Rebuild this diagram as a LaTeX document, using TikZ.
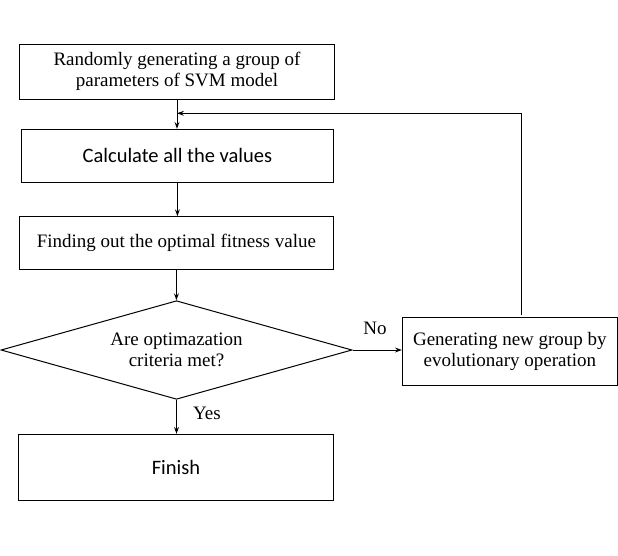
\documentclass[tikz,border=0pt]{standalone}
\usepackage{fontspec}
\setmainfont{Liberation Serif}
\newfontfamily\calfont{Carlito}
\usetikzlibrary{shapes.geometric,arrows.meta}
\begin{document}
\begin{tikzpicture}[x=1pt,y=-1pt,
  box/.style={draw,line width=1pt,inner sep=0pt,align=center,font=\fontsize{19}{21}\selectfont},
  sbox/.style={box,font=\calfont\fontsize{20.5}{21}\selectfont},
  arr/.style={line width=1pt,-{Stealth[length=7pt,width=5pt,inset=2.5pt]}},
  lbl/.style={font=\fontsize{19}{21}\selectfont,inner sep=0pt}]
\useasboundingbox (0,0) rectangle (618,555);
\node[box,minimum width=315pt,minimum height=55pt] (b1) at (177,71.8) {Randomly generating a group of\\parameters of SVM model};
\node[sbox,minimum width=312pt,minimum height=53pt] (b2) at (177.4,155.8) {Calculate all the values};
\node[box,minimum width=314pt,minimum height=52.6pt] (b3) at (176.4,243) {Finding out the optimal fitness value};
\node[draw,diamond,line width=1pt,inner sep=0pt,minimum width=351pt,minimum height=98.6pt] (d) at (176.5,350) {};
\node[box,draw=none,align=center] (dt) at (d) {Are optimazation\\criteria met?};
\node[box,minimum width=215pt,minimum height=68pt] (rb) at (509.9,351.3) {Generating new group by\\evolutionary operation};
\node[sbox,minimum width=315pt,minimum height=66pt] (fin) at (176,467.3) {Finish};
\coordinate (fb) at (177,113.3);
\coordinate (up) at (521.5,314.7);
\draw[arr] (b1.south) -- (b1.south |- b2.north);
\draw[arr] (b2.south) -- (b2.south |- b3.north);
\draw[arr] (b3.south) -- (b3.south |- d.north);
\draw[arr] (d.south) -- (d.south |- fin.north);
\draw[arr] (d.east) -- (d.east -| rb.west);
\draw[arr] (up) |- (fb);
\node[lbl] (no) at (375,328) {No};
\node[lbl] (yes) at (207,413.5) {Yes};
\end{tikzpicture}
\end{document}
